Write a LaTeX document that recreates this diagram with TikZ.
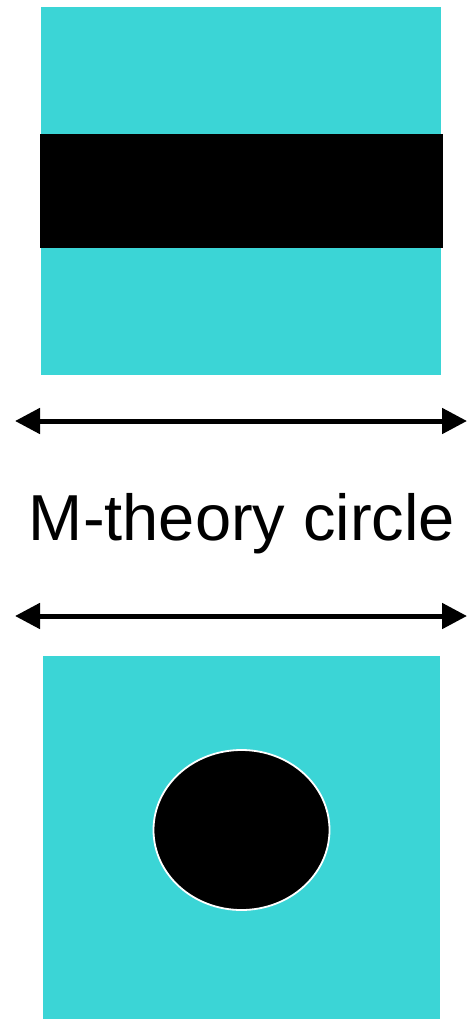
\documentclass[tikz,border=0pt]{standalone}
\usepackage{fontspec}
\setmainfont{Liberation Sans}
\usetikzlibrary{positioning,arrows.meta}
\definecolor{slab}{RGB}{59,213,214}
\begin{document}
\begin{tikzpicture}[
  x=1pt,y=-1pt,
  >={Triangle[length=25pt,width=25pt]},
  sq/.style={fill=slab,draw=none},
  brane/.style={fill=black,draw=none},
  span/.style={<->,line width=5pt},
  lbl/.style={font=\fontsize{65}{72}\selectfont,inner sep=0pt,anchor=base}
]
\useasboundingbox (0,0) rectangle (469,1019);
% upper picture: slab with a band
\fill[sq] (41,7) rectangle (441,375);
\fill[brane] (39.5,134) rectangle (443,248);
% arrows round the label
\coordinate (a1l) at (15,421);
\coordinate (a1r) at (467,421);
\draw[span] (a1l) -- (a1r);
\node[lbl] (txt) at (242,540) {M-theory circle};
\coordinate (a2l) at (15,616);
\coordinate (a2r) at (467,616);
\draw[span] (a2l) -- (a2r);
% lower picture: slab with a disc
\fill[sq] (43,656) rectangle (440,1019);
\filldraw[brane,draw=white,line width=1.8pt] (241.5,830) ellipse [x radius=88,y radius=80];
\end{tikzpicture}
\end{document}
